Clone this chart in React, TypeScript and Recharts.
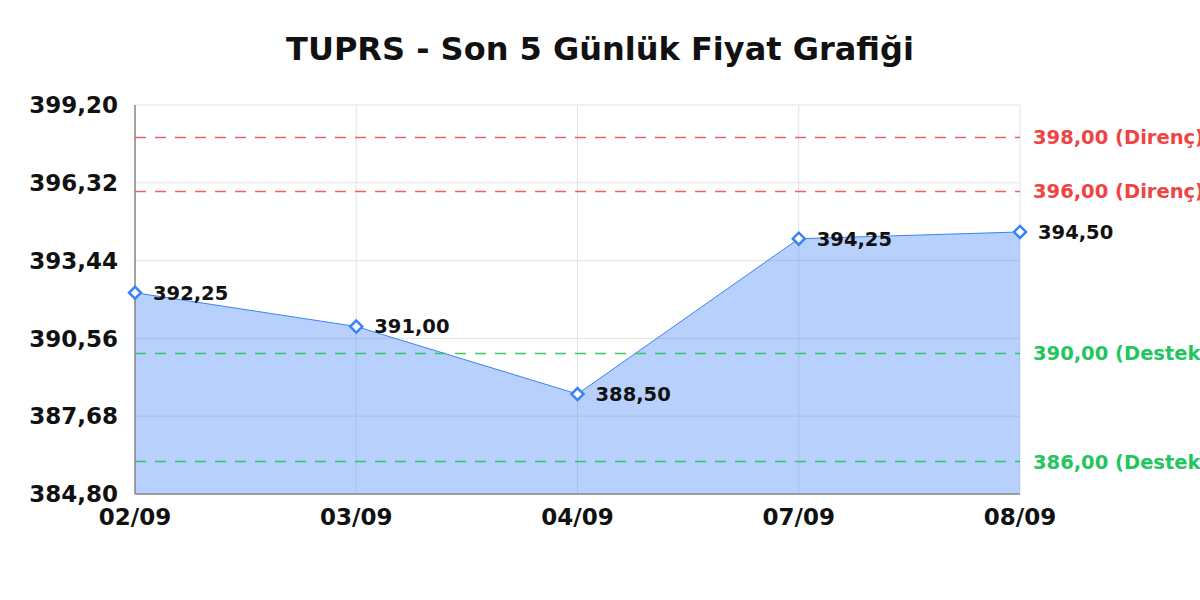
import React from 'react';
import {
  ComposedChart,
  Area,
  XAxis,
  YAxis,
  CartesianGrid,
  ReferenceLine,
  LabelList,
} from 'recharts';

const categories = ['02/09', '03/09', '04/09', '07/09', '08/09'];
const prices = [392.25, 391.0, 388.5, 394.25, 394.5];
const yTicks = [384.8, 387.68, 390.56, 393.44, 396.32, 399.2];
const resistanceLevels = [398, 396];
const supportLevels = [390, 386];
const title = 'TUPRS - Son 5 Günlük Fiyat Grafiği';

const fmt = (v: number) => v.toFixed(2).replace('.', ',');

const data = categories.map((c, i) => ({ date: c, price: prices[i] }));

const FONT = '"DejaVu Sans", sans-serif';

const Diamond = (props: any) => {
  const { cx, cy } = props;
  if (cx == null || cy == null) return null;
  const r = 6;
  return (
    <path
      d={`M${cx},${cy - r} L${cx + r},${cy} L${cx},${cy + r} L${cx - r},${cy} Z`}
      fill="#ffffff"
      stroke="#3b82f6"
      strokeWidth={2.5}
    />
  );
};

const ValueLabel = (props: any) => {
  const { x, y, value } = props;
  return (
    <text
      x={x + 18}
      y={y}
      dy="0.35em"
      fontSize={19.5}
      fontWeight="bold"
      fill="#111111"
      fontFamily={FONT}
    >
      {fmt(value)}
    </text>
  );
};

export default function App() {
  return (
    <div
      style={{
        position: 'absolute',
        left: 0,
        top: 0,
        width: 1200,
        height: 600,
        background: '#ffffff',
        fontFamily: FONT,
      }}
    >
      <svg
        width={1200}
        height={80}
        style={{ position: 'absolute', left: 0, top: 0, pointerEvents: 'none' }}
      >
        <text
          x={600}
          y={60}
          textAnchor="middle"
          fontSize={32}
          fontWeight="bold"
          fill="#111111"
          fontFamily={FONT}
        >
          {title}
        </text>
      </svg>
      <ComposedChart
        width={1200}
        height={600}
        data={data}
        margin={{ top: 105, right: 180, bottom: 76, left: 0 }}
      >
        <CartesianGrid stroke="#e3e3e3" strokeWidth={1} />
        <XAxis
          dataKey="date"
          padding={{ left: 0, right: 0 }}
          height={30}
          tickLine={false}
          tickSize={0}
          tickMargin={15}
          axisLine={{ stroke: '#888888', strokeWidth: 1.5 }}
          tick={{ fontSize: 23, fontWeight: 'bold', fill: '#111111', fontFamily: FONT }}
          interval={0}
        />
        <YAxis
          width={135}
          domain={[384.8, 399.2]}
          ticks={yTicks}
          type="number"
          allowDataOverflow
          tickLine={false}
          tickSize={0}
          tickMargin={17}
          tickFormatter={fmt}
          axisLine={{ stroke: '#888888', strokeWidth: 1.5 }}
          tick={{ fontSize: 23, fontWeight: 'bold', fill: '#111111', fontFamily: FONT }}
          interval={0}
        />
        <Area
          type="linear"
          dataKey="price"
          stroke="#3b82f6"
          strokeWidth={1}
          fill="#3b82f6"
          fillOpacity={0.37}
          dot={<Diamond />}
          activeDot={false}
          isAnimationActive={false}
        >
          <LabelList dataKey="price" content={<ValueLabel />} />
        </Area>
        {resistanceLevels.map((lv) => (
          <ReferenceLine
            key={`r${lv}`}
            y={lv}
            stroke="#ef4444"
            strokeOpacity={0.85}
            strokeWidth={1.5}
            strokeDasharray="11 9"
            label={{
              value: `${fmt(lv)} (Direnç)`,
              position: 'right',
              offset: 13,
              fill: '#ef4444',
              fontSize: 19.5,
              fontWeight: 'bold',
              fontFamily: FONT,
            }}
          />
        ))}
        {supportLevels.map((lv) => (
          <ReferenceLine
            key={`s${lv}`}
            y={lv}
            stroke="#22c55e"
            strokeOpacity={0.9}
            strokeWidth={1.5}
            strokeDasharray="11 9"
            label={{
              value: `${fmt(lv)} (Destek)`,
              position: 'right',
              offset: 13,
              fill: '#22c55e',
              fontSize: 19.5,
              fontWeight: 'bold',
              fontFamily: FONT,
            }}
          />
        ))}
      </ComposedChart>
    </div>
  );
}
